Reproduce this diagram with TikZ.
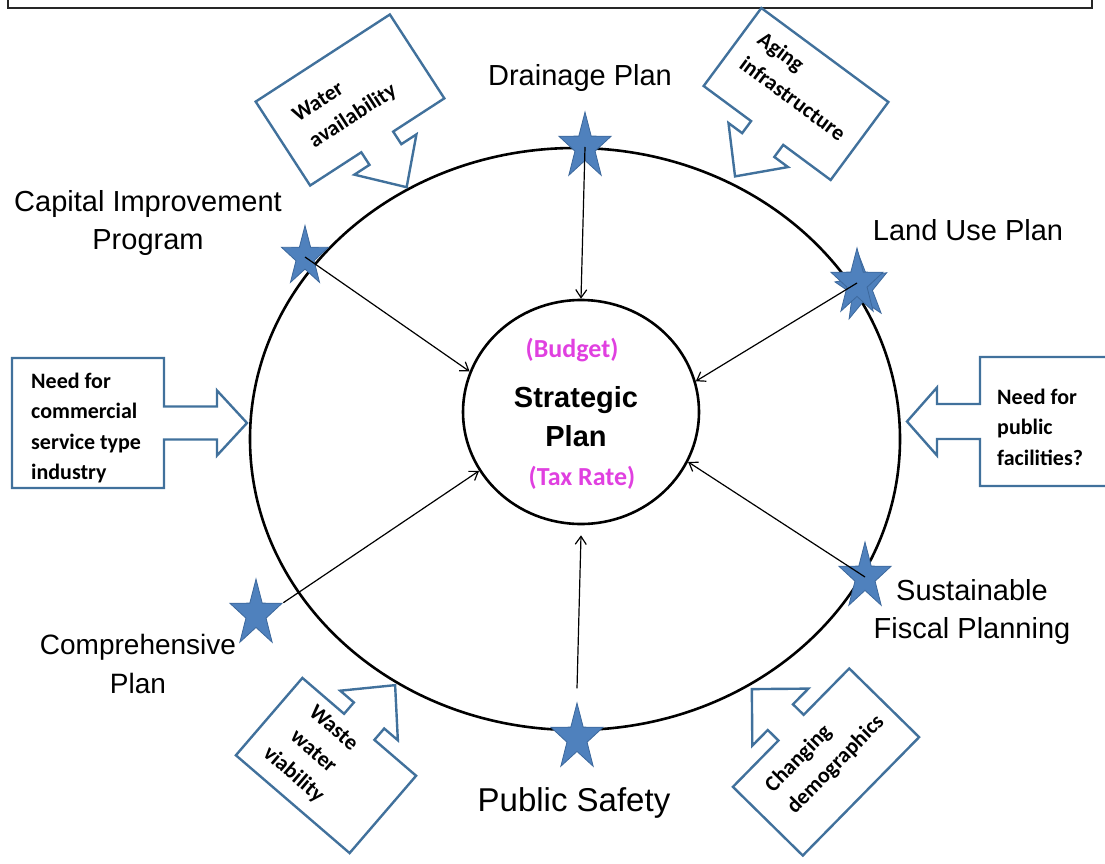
\documentclass[tikz,border=0pt]{standalone}
\usepackage{fontspec}
\setmainfont{Liberation Sans}
\newfontfamily\calibri{Carlito}
\usepackage{xcolor}
\definecolor{cblue}{HTML}{41719C}
\definecolor{sblue}{HTML}{4F81BD}
\definecolor{sline}{HTML}{3C689C}
\definecolor{mpink}{HTML}{E040E0}
\usepackage{tikz}
\usetikzlibrary{shapes.geometric, arrows.meta}

% box with a block arrow coming out of its lower side
% #1 centre, #2 angle, #3 width, #4 height, #5 stem half width,
% #6 stem length, #7 head half width, #8 head length
\newcommand{\blockcallout}[8]{%
  \draw[calloutline, shift={#1}, rotate=#2]
    ({-#3/2},{-#4/2}) -- ({#3/2},{-#4/2}) -- ({#3/2},{#4/2}) -- ({#5},{#4/2})
    -- ({#5},{#4/2+#6}) -- ({#7},{#4/2+#6}) -- (0,{#4/2+#6+#8})
    -- ({-#7},{#4/2+#6}) -- ({-#5},{#4/2+#6}) -- ({-#5},{#4/2})
    -- ({-#3/2},{#4/2}) -- cycle;
}

\begin{document}
\begin{tikzpicture}[x=1pt, y=-1pt,
    calloutline/.style={cblue, line width=2.4pt},
    callouttext/.style={font=\calibri\bfseries\fontsize{22}{30.5}\selectfont, align=left, inner sep=0pt},
    planlabel/.style={font=\fontsize{29}{38}\selectfont, align=center, inner sep=0pt},
    planstar/.style={star, star points=5, star point ratio=2.6, minimum size=55pt, inner sep=0pt,
                     fill=sblue, draw=sline, line width=0.8pt, yscale=1.27},
    link/.style={line width=1.2pt, -{Straight Barb[length=8pt, width=11pt]}}
  ]

  \useasboundingbox (0,0) rectangle (1105,864);
  \clip (0,0) rectangle (1105,864);

  % title bar running off the top
  \draw[line width=2pt, black!85] (8,-20) rectangle (1092,8);

  % outer ring and the plan in the middle
  \draw[line width=2.6pt] (575,439) ellipse [x radius=325pt, y radius=291pt];
  \node[draw, ellipse, line width=2.6pt, minimum width=236pt, minimum height=224pt] (strat) at (581,412) {};

  \node[font=\bfseries\fontsize{29}{39}\selectfont, align=center, inner sep=0pt] (title) at (576,417) {Strategic\\Plan};
  \node[font=\calibri\bfseries\fontsize{26}{30}\selectfont, text=mpink, inner sep=0pt] (budget) at (572,350) {(Budget)};
  \node[font=\calibri\bfseries\fontsize{26}{30}\selectfont, text=mpink, inner sep=0pt] (taxrate) at (582,478) {(Tax Rate)};

  % pressures from outside
  \blockcallout{(350,100)}{33}{160}{100}{19}{15}{37}{39}
  \blockcallout{(796,94)}{-36.5}{158}{97}{20}{15}{37}{39}
  \blockcallout{(88,423)}{90}{130}{152}{16.5}{53}{32.5}{30}
  \blockcallout{(1056,421.5)}{-90}{129}{152}{17.5}{43}{34}{30}
  \blockcallout{(326,765.5)}{139.3}{150}{102}{20}{15}{38}{40}
  \blockcallout{(826,762)}{-134.5}{166}{98}{18}{15}{40}{40}

  \node[callouttext, rotate=33] (water) at (345,104) {Water\\availability};
  \node[callouttext, rotate=-36.5] (aging) at (802,86) {Aging\\infrastructure};
  \node[callouttext, anchor=west] (commerce) at (31,428) {Need for\\commercial\\service type\\industry};
  \node[callouttext, anchor=west] (facilities) at (997,427) {Need for\\public\\facilities?};
  \node[callouttext, align=center, rotate=-40.7] (waste) at (313,752) {Waste\\water\\viability};
  \node[callouttext, rotate=45.5] (demog) at (825,754) {Changing\\demographics};

  % the plans on the ring
  \node[planstar] (drain) at (585,147) {};
  \node[planstar, scale=0.9] (cip) at (305,257) {};
  \node[planstar, rotate=8] (landb) at (862,288) {};
  \node[planstar] (land) at (857,283) {};
  \node[planstar] (sust) at (865,577) {};
  \node[planstar] (comp) at (256,614) {};
  \node[planstar] (safety) at (577,738) {};

  \draw[link] (drain.center) -- (strat.north);
  \draw[link] (cip.center) -- (strat.160);
  \draw[link] (land.center) -- (strat.15);
  \draw[link] (sust.center) -- (strat.-25);
  \draw[link] (comp.outer point 5) -- (strat.210);
  \draw[link] ([yshift=13pt]safety.outer point 1) -- ([yshift=-10pt]strat.south);

  \node[planlabel] (drainlabel) at (580,78) {Drainage Plan};
  \node[planlabel] (ciplabel) at (148,223) {Capital Improvement\\Program};
  \node[planlabel] (landlabel) at (968,230) {Land Use Plan};
  \node[planlabel] (sustlabel) at (972,612) {Sustainable\\Fiscal Planning};
  \node[planlabel, font=\fontsize{28}{39}\selectfont] (complabel) at (138,664) {Comprehensive\\Plan};
  \node[planlabel, font=\fontsize{33}{40}\selectfont] (safetylabel) at (574,803) {Public Safety};

\end{tikzpicture}
\end{document}
